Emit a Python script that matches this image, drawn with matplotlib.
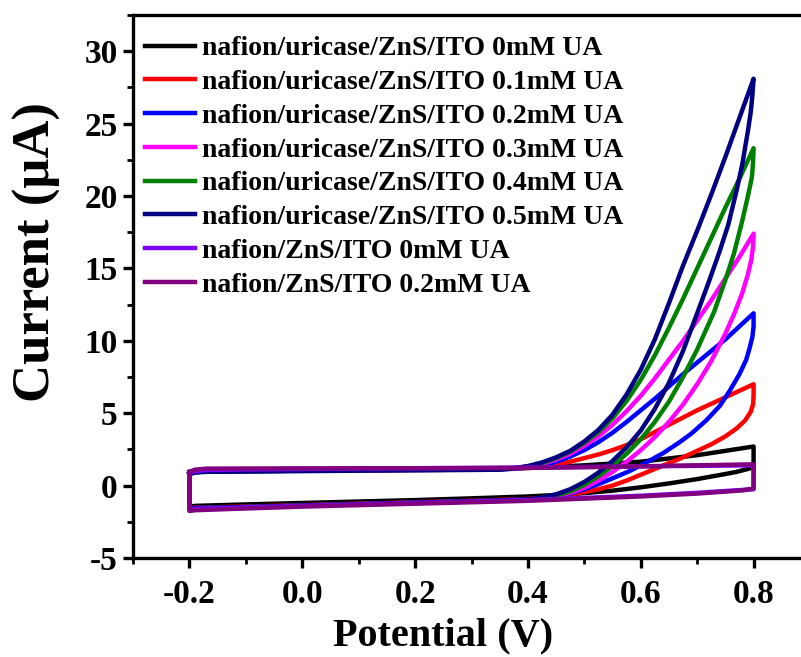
import matplotlib
matplotlib.use("Agg")
import matplotlib.pyplot as plt
from matplotlib.ticker import MultipleLocator

plt.rcParams["font.family"] = ["Liberation Serif", "DejaVu Serif"]
plt.rcParams["font.weight"] = "bold"
plt.rcParams["axes.unicode_minus"] = False

# ----------------------
# 数据（从图中读取：正扫 + 回扫）
# ----------------------
labels = [
    "nafion/uricase/ZnS/ITO 0mM UA",
    "nafion/uricase/ZnS/ITO 0.1mM UA",
    "nafion/uricase/ZnS/ITO 0.2mM UA",
    "nafion/uricase/ZnS/ITO 0.3mM UA",
    "nafion/uricase/ZnS/ITO 0.4mM UA",
    "nafion/uricase/ZnS/ITO 0.5mM UA",
    "nafion/ZnS/ITO 0mM UA",
    "nafion/ZnS/ITO 0.2mM UA",
]
colors = ["#000000", "#FF0000", "#0000FF", "#FF00FF", "#008000", "#000080", "#8000FF", "#800080"]

# 公共基线段的电位
base_fwd_x = [-0.2, -0.19, -0.17, -0.1, 0.0, 0.1, 0.2, 0.3]
base_rev_x = [0.3, 0.2, 0.1, 0.0, -0.1, -0.19, -0.2]
rise_x = [0.35, 0.375, 0.4, 0.425, 0.45, 0.475, 0.5, 0.525, 0.55, 0.575, 0.6,
          0.625, 0.65, 0.675, 0.7, 0.725, 0.75, 0.775, 0.8]

black_fwd_x = base_fwd_x + [0.4, 0.5, 0.6, 0.7, 0.75, 0.8]
black_fwd_y = [0.8, 0.95, 1.0, 1.03, 1.07, 1.1, 1.13, 1.17, 1.22, 1.4, 1.65, 2.1, 2.4, 2.7]
black_rev_x = [0.8, 0.8, 0.79, 0.77, 0.75, 0.7, 0.65, 0.6, 0.55, 0.5, 0.45, 0.4] + base_rev_x
black_rev_y = [2.7, 1.3, 1.15, 0.95, 0.8, 0.45, 0.15, -0.12, -0.35, -0.52, -0.65, -0.75,
               -0.88, -1.0, -1.1, -1.2, -1.3, -1.4, -1.45]

red_fwd_x = base_fwd_x + rise_x
red_fwd_y = [0.8, 0.95, 1.0, 1.02, 1.05, 1.08, 1.1, 1.12,
             1.15, 1.18, 1.22, 1.3, 1.45, 1.65, 1.9, 2.15, 2.45, 2.8, 3.2,
             3.7, 4.2, 4.7, 5.2, 5.65, 6.1, 6.55, 7.0]
red_rev_x = [0.8, 0.8, 0.799, 0.795, 0.785, 0.77, 0.75, 0.725, 0.7, 0.675, 0.65, 0.625,
             0.6, 0.575, 0.55, 0.525, 0.5, 0.475, 0.45, 0.425, 0.4] + base_rev_x
red_rev_y = [7.0, 6.2, 5.6, 5.1, 4.5, 3.95, 3.4, 2.85, 2.4, 1.95, 1.55, 1.15,
             0.75, 0.35, 0.0, -0.25, -0.45, -0.62, -0.75, -0.85, -0.92,
             -1.05, -1.15, -1.25, -1.35, -1.45, -1.52, -1.55]

blue_fwd_x = base_fwd_x + rise_x
blue_fwd_y = [0.8, 0.93, 0.98, 1.0, 1.03, 1.06, 1.08, 1.1,
              1.12, 1.16, 1.25, 1.4, 1.65, 2.0, 2.45, 3.0, 3.65, 4.4, 5.2,
              6.0, 6.85, 7.7, 8.5, 9.3, 10.1, 11.0, 11.9]
blue_rev_x = [0.8, 0.8, 0.798, 0.793, 0.787, 0.775, 0.757, 0.74, 0.716, 0.69, 0.669, 0.64,
              0.61, 0.58, 0.55, 0.525, 0.5, 0.475, 0.45, 0.425, 0.4] + base_rev_x
blue_rev_y = [11.9, 11.0, 10.3, 9.5, 8.7, 7.7, 6.5, 5.5, 4.5, 3.6, 3.0, 2.25,
              1.6, 1.0, 0.5, 0.1, -0.25, -0.55, -0.75, -0.88, -0.97,
              -1.08, -1.18, -1.28, -1.38, -1.48, -1.55, -1.6]

magenta_fwd_x = base_fwd_x + rise_x
magenta_fwd_y = [0.8, 0.93, 0.98, 1.0, 1.03, 1.06, 1.08, 1.1,
                 1.12, 1.18, 1.3, 1.5, 1.8, 2.2, 2.75, 3.4, 4.2, 5.15, 6.2,
                 7.4, 8.7, 10.0, 11.4, 12.8, 14.3, 15.8, 17.4]
magenta_rev_x = [0.8, 0.799, 0.796, 0.79, 0.78, 0.765, 0.75, 0.725, 0.7, 0.675, 0.65, 0.625,
                 0.6, 0.575, 0.55, 0.525, 0.5, 0.475, 0.45, 0.425, 0.4] + base_rev_x
magenta_rev_y = [17.4, 16.5, 15.6, 14.6, 13.3, 11.8, 10.5, 8.6, 7.0, 5.6, 4.4, 3.35,
                 2.45, 1.65, 0.95, 0.35, -0.15, -0.5, -0.75, -0.9, -0.98,
                 -1.08, -1.18, -1.28, -1.38, -1.48, -1.55, -1.6]

green_fwd_x = base_fwd_x + rise_x
green_fwd_y = [0.8, 0.93, 0.98, 1.0, 1.03, 1.06, 1.08, 1.1,
               1.12, 1.2, 1.33, 1.55, 1.9, 2.35, 2.95, 3.7, 4.65, 5.85, 7.3,
               9.0, 10.9, 12.9, 15.0, 17.1, 19.2, 21.2, 23.3]
green_rev_x = [0.8, 0.799, 0.797, 0.79, 0.78, 0.765, 0.75, 0.73, 0.7, 0.675, 0.65, 0.625,
               0.6, 0.575, 0.55, 0.525, 0.5, 0.475, 0.45, 0.425, 0.4] + base_rev_x
green_rev_y = [23.3, 22.3, 21.3, 20.0, 18.3, 16.0, 14.2, 12.0, 9.4, 7.5, 5.8, 4.4,
               3.2, 2.2, 1.35, 0.65, 0.05, -0.4, -0.7, -0.88, -0.97,
               -1.08, -1.18, -1.28, -1.38, -1.48, -1.55, -1.6]

navy_fwd_x = base_fwd_x + rise_x
navy_fwd_y = [0.8, 0.9, 0.95, 0.97, 1.0, 1.03, 1.06, 1.08,
              1.1, 1.2, 1.35, 1.6, 1.95, 2.4, 3.05, 3.85, 4.9, 6.3, 8.0,
              10.1, 12.6, 15.2, 17.6, 20.1, 22.7, 25.4, 28.1]
navy_rev_x = [0.8, 0.798, 0.795, 0.79, 0.78, 0.77, 0.755, 0.74, 0.72, 0.7, 0.675, 0.65,
              0.625, 0.6, 0.575, 0.55, 0.525, 0.5, 0.475, 0.45, 0.425, 0.4] + base_rev_x
navy_rev_y = [28.1, 27.0, 25.8, 24.5, 22.2, 20.4, 18.0, 16.2, 14.0, 11.9, 9.3, 7.1,
              5.3, 3.8, 2.65, 1.7, 0.9, 0.25, -0.25, -0.6, -0.82, -0.95,
              -1.08, -1.18, -1.28, -1.38, -1.48, -1.55, -1.6]

violet_fwd_x = base_fwd_x + [0.4, 0.6, 0.8]
violet_fwd_y = [0.85, 1.0, 1.08, 1.12, 1.15, 1.17, 1.2, 1.22, 1.25, 1.33, 1.4]
violet_rev_x = [0.8, 0.8, 0.7, 0.6, 0.5, 0.4] + base_rev_x
violet_rev_y = [1.4, -0.25, -0.5, -0.7, -0.85, -1.0, -1.1, -1.2, -1.3, -1.4, -1.5, -1.6, -1.65]

purple_fwd_x = base_fwd_x + [0.4, 0.5, 0.6, 0.7, 0.8]
purple_fwd_y = [0.95, 1.1, 1.17, 1.18, 1.19, 1.2, 1.2, 1.21, 1.22, 1.27, 1.33, 1.4, 1.47]
purple_rev_x = [0.8, 0.8, 0.78, 0.7, 0.6, 0.5, 0.4] + base_rev_x
purple_rev_y = [1.47, -0.2, -0.33, -0.55, -0.75, -0.9, -1.05, -1.15, -1.25, -1.35, -1.45, -1.58, -1.7, -1.75]

series = [
    (black_fwd_x, black_fwd_y, black_rev_x, black_rev_y),
    (red_fwd_x, red_fwd_y, red_rev_x, red_rev_y),
    (blue_fwd_x, blue_fwd_y, blue_rev_x, blue_rev_y),
    (magenta_fwd_x, magenta_fwd_y, magenta_rev_x, magenta_rev_y),
    (green_fwd_x, green_fwd_y, green_rev_x, green_rev_y),
    (navy_fwd_x, navy_fwd_y, navy_rev_x, navy_rev_y),
    (violet_fwd_x, violet_fwd_y, violet_rev_x, violet_rev_y),
    (purple_fwd_x, purple_fwd_y, purple_rev_x, purple_rev_y),
]

# ----------------------
# 绘图
# ----------------------
fig = plt.figure(figsize=(8.01, 6.57), dpi=100)
ax = fig.add_axes([133 / 801, 99 / 657, 677 / 801, 543 / 657])

for (fx, fy, rx, ry), c, lab in zip(series, colors, labels):
    xs = fx + rx + [fx[0]]
    ys = fy + ry + [fy[0]]
    ax.plot(xs, ys, color=c, lw=3.2, label=lab, solid_joinstyle="round")

ax.set_xlim(-0.3, 0.9)
ax.set_ylim(-5, 32.5)
ax.xaxis.set_major_locator(MultipleLocator(0.2))
ax.xaxis.set_minor_locator(MultipleLocator(0.1))
ax.yaxis.set_major_locator(MultipleLocator(5))
ax.yaxis.set_minor_locator(MultipleLocator(2.5))
ax.xaxis.set_major_formatter(plt.FuncFormatter(lambda v, p: f"{v:.1f}"))

for s in ax.spines.values():
    s.set_linewidth(2.4)
ax.tick_params(which="major", direction="out", length=7, width=2.4, labelsize=24)
ax.tick_params(axis="x", which="major", pad=8)
ax.tick_params(axis="y", which="major", pad=4)
ax.tick_params(which="minor", direction="out", length=4, width=2.0)
for t in ax.get_xticklabels() + ax.get_yticklabels():
    t.set_fontweight("bold")

ax.set_xlabel("Potential (V)", fontsize=29, fontweight="bold", va="center")
ax.set_ylabel("Current (μA)", fontsize=38, fontweight="bold", va="center")
ax.xaxis.set_label_coords(0.458, -0.144)
ax.yaxis.set_label_coords(-0.142, 0.564)

leg = ax.legend(loc="upper left", bbox_to_anchor=(0.0015, 0.982), frameon=False,
                handlelength=1.8, handletextpad=0.25, labelspacing=0.3,
                borderpad=0.4, borderaxespad=0.0,
                prop={"weight": "bold", "size": 20})

fig.savefig("out.png", dpi=100)
